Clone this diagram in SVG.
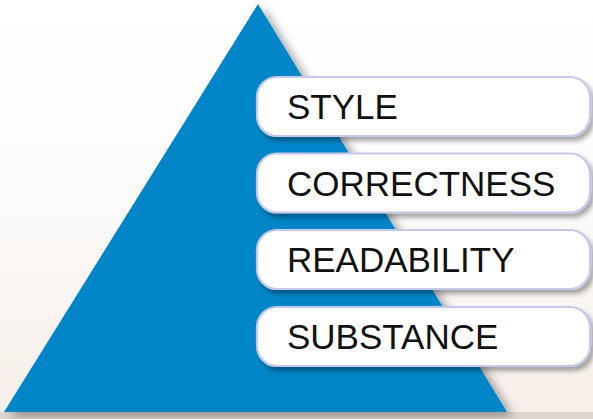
<svg xmlns="http://www.w3.org/2000/svg" width="593" height="419" viewBox="0 0 593 419">
  <defs>
    <linearGradient id="bg" x1="0" y1="0" x2="0" y2="1">
      <stop offset="0" stop-color="#ffffff"/>
      <stop offset="0.45" stop-color="#fdfcfb"/>
      <stop offset="1" stop-color="#f6eee8"/>
    </linearGradient>
    <filter id="triShadow" x="-10%" y="-10%" width="130%" height="130%">
      <feGaussianBlur in="SourceAlpha" stdDeviation="5"/>
      <feOffset dx="6" dy="4" result="b"/>
      <feComponentTransfer><feFuncA type="linear" slope="0.35"/></feComponentTransfer>
      <feMerge><feMergeNode/><feMergeNode in="SourceGraphic"/></feMerge>
    </filter>
    <filter id="boxShadow" x="-10%" y="-20%" width="120%" height="160%">
      <feGaussianBlur in="SourceAlpha" stdDeviation="2.5"/>
      <feOffset dx="3" dy="4" result="b"/>
      <feComponentTransfer><feFuncA type="linear" slope="0.35"/></feComponentTransfer>
      <feMerge><feMergeNode/><feMergeNode in="SourceGraphic"/></feMerge>
    </filter>
  </defs>
  <style>
    .box { fill: #ffffff; stroke: #c5c8e8; stroke-width: 2.2; filter: url(#boxShadow); }
    .lbl { font-family: "Liberation Sans", Arial, sans-serif; font-size: 35px; fill: #111111; }
  </style>
  <rect x="0" y="0" width="593" height="419" fill="url(#bg)"/>
  <rect x="0" y="412" width="593" height="7" fill="#cdc5be" opacity="0.6"/>
  <g id="pyramid">
    <polygon points="258,4 4,412 507,412" fill="#0086c8" filter="url(#triShadow)"/>
  </g>
  <g id="style">
    <rect class="box" x="257" y="77" width="333" height="59" rx="20"/>
    <text class="lbl" x="287" y="119">STYLE</text>
  </g>
  <g id="correctness">
    <rect class="box" x="257" y="153.5" width="333" height="59" rx="20"/>
    <text class="lbl" x="287" y="195.5">CORRECTNESS</text>
  </g>
  <g id="readability">
    <rect class="box" x="257" y="230" width="333" height="59" rx="20"/>
    <text class="lbl" x="287" y="272">READABILITY</text>
  </g>
  <g id="substance">
    <rect class="box" x="257" y="307" width="333" height="59" rx="20"/>
    <text class="lbl" x="287" y="349">SUBSTANCE</text>
  </g>
  <g id="connectors"/>
</svg>
